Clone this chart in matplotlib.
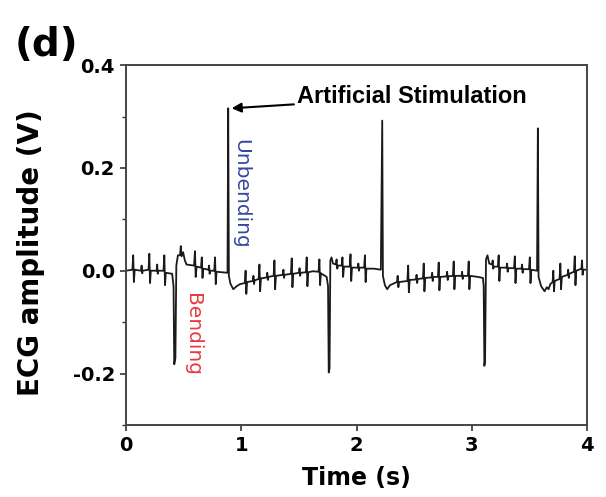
import numpy as np
import matplotlib.pyplot as plt
from matplotlib.ticker import MultipleLocator

plt.rcParams['font.family'] = ['DejaVu Sans']
plt.rcParams['axes.unicode_minus'] = False

# ECG trace: time (s) and amplitude (V)
time_s = [
    0.000, 0.055, 0.062, 0.068, 0.075, 0.130, 0.135, 0.140, 0.145,
    0.195, 0.202, 0.208, 0.215, 0.265, 0.270, 0.275, 0.280,
    0.325, 0.332, 0.338, 0.345, 0.400,
    0.412, 0.418, 0.428, 0.436, 0.450, 0.468, 0.475, 0.482, 0.495, 0.510, 0.525,
    0.590, 0.598, 0.604, 0.612, 0.650, 0.657, 0.663, 0.670,
    0.715, 0.720, 0.725, 0.730, 0.765, 0.772, 0.778, 0.785, 0.880,
    0.886, 0.892, 0.905, 0.930, 0.960, 0.990,
    1.030, 1.037, 1.043, 1.050, 1.100, 1.105, 1.110, 1.115,
    1.150, 1.157, 1.163, 1.170, 1.220, 1.225, 1.230, 1.235,
    1.280, 1.287, 1.293, 1.300, 1.360, 1.365, 1.370, 1.375,
    1.430, 1.437, 1.443, 1.450, 1.500, 1.505, 1.510, 1.515,
    1.560, 1.567, 1.573, 1.580, 1.620,
    1.670, 1.677, 1.683, 1.690, 1.740,
    1.752, 1.758, 1.765, 1.772, 1.782, 1.795,
    1.820, 1.826, 1.832, 1.838, 1.870, 1.877, 1.883, 1.890,
    1.940, 1.947, 1.953, 1.960, 2.010, 2.015, 2.020, 2.025,
    2.065, 2.072, 2.078, 2.085, 2.150, 2.210,
    2.222, 2.228, 2.245, 2.265, 2.290, 2.330,
    2.350, 2.356, 2.362, 2.368, 2.440, 2.447, 2.453, 2.460,
    2.515, 2.520, 2.525, 2.530, 2.575, 2.582, 2.588, 2.595,
    2.650, 2.655, 2.660, 2.665, 2.705, 2.712, 2.718, 2.725,
    2.780, 2.785, 2.790, 2.795, 2.835, 2.842, 2.848, 2.855,
    2.910, 2.915, 2.920, 2.925, 2.965, 2.972, 2.978, 2.985,
    3.050, 3.095,
    3.102, 3.108, 3.114, 3.122, 3.135, 3.150,
    3.175, 3.180, 3.185, 3.190, 3.225, 3.232, 3.238, 3.245,
    3.300, 3.305, 3.310, 3.315, 3.365, 3.372, 3.378, 3.385,
    3.430, 3.435, 3.440, 3.445, 3.495, 3.502, 3.508, 3.515, 3.565,
    3.572, 3.578, 3.600, 3.630, 3.650, 3.665, 3.680,
    3.700, 3.706, 3.712, 3.718, 3.760, 3.767, 3.773, 3.780,
    3.830, 3.835, 3.840, 3.845, 3.885, 3.892, 3.898, 3.905,
    3.950, 3.955, 3.960, 3.965, 3.985,
]
ecg_v = [
    0.000, 0.002, 0.030, -0.022, 0.002, 0.000, 0.010, -0.005, 0.000,
    0.002, 0.033, -0.024, 0.000, 0.000, 0.012, -0.006, 0.000,
    0.000, 0.030, -0.028, -0.004, -0.006,
    -0.030, -0.182, -0.170, 0.010, 0.030, 0.030, 0.048, 0.028, 0.036, 0.020, 0.012,
    0.010, 0.038, -0.012, 0.008, 0.006, 0.026, -0.014, 0.004,
    0.002, 0.010, -0.006, 0.000, 0.000, 0.026, -0.026, -0.002, -0.004,
    0.316, -0.010, -0.025, -0.036, -0.030, -0.026,
    -0.024, 0.000, -0.045, -0.022, -0.020, -0.010, -0.026, -0.019,
    -0.016, 0.012, -0.040, -0.015, -0.013, -0.004, -0.018, -0.012,
    -0.010, 0.020, -0.036, -0.010, -0.008, 0.002, -0.014, -0.008,
    -0.006, 0.024, -0.032, -0.006, -0.004, 0.005, -0.010, -0.004,
    -0.003, 0.026, -0.030, -0.003, -0.001,
    -0.002, 0.022, -0.028, -0.005, -0.012,
    -0.030, -0.198, -0.190, 0.020, 0.026, 0.014,
    0.012, 0.022, 0.004, 0.010, 0.010, 0.026, -0.012, 0.008,
    0.008, 0.032, -0.020, 0.006, 0.006, 0.014, 0.000, 0.006,
    0.006, 0.030, -0.022, 0.004, 0.004, 0.002,
    0.292, -0.010, -0.028, -0.036, -0.028, -0.024,
    -0.022, -0.010, -0.032, -0.022, -0.020, 0.010, -0.042, -0.018,
    -0.017, -0.008, -0.024, -0.016, -0.015, 0.014, -0.040, -0.014,
    -0.013, -0.004, -0.020, -0.012, -0.012, 0.016, -0.038, -0.012,
    -0.011, -0.002, -0.018, -0.011, -0.010, 0.018, -0.036, -0.010,
    -0.010, -0.002, -0.016, -0.010, -0.010, 0.018, -0.036, -0.010,
    -0.012, -0.014,
    -0.030, -0.185, -0.175, 0.022, 0.030, 0.014,
    0.012, 0.020, 0.004, 0.008, 0.008, 0.030, -0.020, 0.006,
    0.006, 0.014, -0.002, 0.005, 0.005, 0.028, -0.024, 0.004,
    0.004, 0.012, -0.004, 0.003, 0.003, 0.026, -0.024, 0.002, 0.000,
    0.277, -0.012, -0.030, -0.040, -0.032, -0.036, -0.026,
    -0.022, 0.000, -0.040, -0.020, -0.016, 0.014, -0.036, -0.012,
    -0.008, 0.002, -0.014, -0.006, -0.002, 0.028, -0.028, 0.000,
    0.004, 0.020, -0.008, 0.002, 0.002,
]

t = np.array(time_s)
v = np.array(ecg_v)

fig = plt.figure(figsize=(6.06, 4.97), dpi=100)
ax = fig.add_axes([0.208, 0.145, 0.761, 0.724])

ax.plot(t, v, color='#1a1a1a', lw=1.3)

ax.set_xlim(0, 4)
ax.set_ylim(-0.3, 0.4)
ax.xaxis.set_major_locator(MultipleLocator(1))
ax.yaxis.set_minor_locator(MultipleLocator(0.1))
ax.set_yticks([-0.2, 0.0, 0.2, 0.4])
ax.set_yticklabels(['-0.2', '0.0', '0.2', '0.4'])

ax.tick_params(axis='both', which='major', direction='out', length=4, width=1.2,
               labelsize=14, pad=4, color='#333333')
ax.tick_params(axis='y', which='minor', direction='out', length=3, width=1.0, color='#333333')
for lab in ax.get_xticklabels() + ax.get_yticklabels():
    lab.set_fontweight('bold')

for s in ax.spines.values():
    s.set_color('#444444')
    s.set_linewidth(1.4)

ax.set_xlabel('Time (s)', fontsize=17, fontweight='bold')
ax.xaxis.set_label_coords(0.5, -0.115)
ax.set_ylabel('ECG amplitude (V)', fontsize=20, fontweight='bold')
ax.yaxis.set_label_coords(-0.175, 0.48)

# annotations
i_up = int(np.argmax(v))
i_dn = int(np.argmin(v[:30]))
ax.annotate('Artificial Stimulation', xy=(t[i_up] + 0.03, v[i_up]),
            xytext=(1.48, 0.338), fontsize=17, fontweight='bold',
            family=['Liberation Sans Narrow', 'Liberation Sans'],
            va='center', ha='left',
            arrowprops=dict(arrowstyle='-|>', color='black', lw=1.5,
                            mutation_scale=14, shrinkA=0, shrinkB=0))
ax.text(t[i_up] + 0.11, 0.15, 'Unbending', rotation=-90, color='#34489e',
        fontsize=14.5, ha='center', va='center')
ax.text(t[i_dn] + 0.16, -0.125, 'Bending', rotation=-90, color='#e83a3f',
        fontsize=14.5, ha='center', va='center')

fig.text(0.076, 0.909, '(d)', fontsize=28, fontweight='bold', ha='center', va='center')

fig.savefig('out.png', dpi=100)
